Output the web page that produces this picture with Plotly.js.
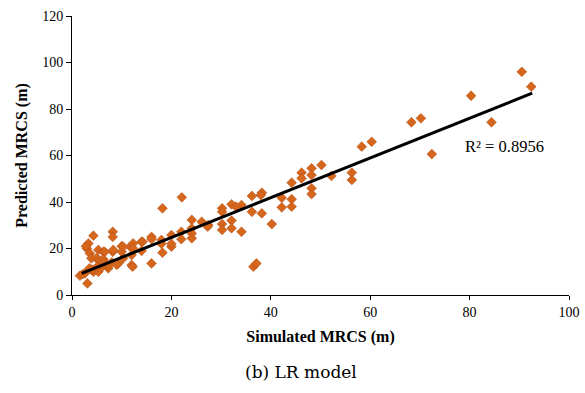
<!DOCTYPE html>
<html>
<head>
<meta charset="utf-8">
<script src="https://cdn.plot.ly/plotly-3.0.1.min.js"></script>
<style>html,body{margin:0;padding:0;background:#fff;}#chart{width:585px;height:393px;}</style>
</head>
<body>
<div id="chart"></div>
<script>
// Simulated MRCS (m)
const simulated = [
  1.6, 2.6, 3.1, 3.0, 3.3, 2.8, 4.3, 3.6, 3.9, 4.3, 5.3, 4.9, 5.5, 5.3, 6.3, 6.6, 6.3, 6.0, 7.3, 8.2,
  8.2, 8.2, 8.3, 9.3, 10.0, 10.0, 10.3, 10.3, 11.7, 12.0, 12.3, 12.3, 12.2, 4.0, 5.0, 7.0, 8.0, 9.0, 6.5, 3.5,
  2.2, 14.0, 14.2, 16.0, 16.0, 18.0, 20.0, 22.0, 24.1, 24.1, 24.1, 24.1, 26.1, 27.4, 18.2, 20.0, 16.0, 12.0,
  22.1, 18.2, 14.0, 20.0, 22.0, 18.0, 30.2, 30.2, 30.2, 30.2, 32.1, 32.1, 32.1, 34.1, 34.1, 36.2, 36.2, 38.2,
  38.2, 40.2, 42.2, 42.2, 44.2, 44.2, 44.2, 36.5, 37.1, 27.3, 38.0, 33.0, 46.2, 46.2, 48.2, 48.2, 48.2, 48.2,
  50.2, 52.2, 56.3, 56.3, 58.3, 60.3, 68.3, 70.2, 72.4, 80.3, 84.4, 90.5, 92.4
];
// Predicted MRCS (m)
const predicted = [
  8.3, 9.3, 5.0, 20.0, 22.2, 21.0, 25.5, 17.9, 15.8, 10.0, 10.0, 15.8, 15.0, 19.4, 18.6, 18.6, 15.4, 12.0, 11.5, 27.2,
  25.0, 18.6, 19.4, 13.6, 21.0, 18.6, 15.8, 20.8, 20.8, 12.9, 22.2, 20.0, 12.2, 11.0, 12.0, 13.0, 14.0, 13.0, 14.0, 11.5,
  9.0, 22.9, 22.9, 25.0, 24.0, 23.7, 25.8, 27.2, 32.3, 28.7, 26.5, 24.4, 31.5, 30.1, 18.2, 20.8, 13.6, 17.2,
  42.0, 37.3, 19.0, 22.0, 24.0, 22.0, 37.3, 35.8, 30.5, 28.0, 39.0, 32.0, 28.7, 38.7, 27.2, 42.6, 35.8, 44.0,
  35.1, 30.5, 41.8, 37.7, 41.2, 38.0, 48.3, 12.2, 13.6, 29.4, 43.0, 38.0, 52.6, 50.2, 54.5, 51.6, 45.9, 43.4,
  55.9, 51.2, 52.6, 49.5, 63.8, 65.9, 74.3, 76.0, 60.6, 85.7, 74.3, 96.0, 89.6
];
// Linear trend line
const trendX = [1.95, 92.6];
const trendY = [9.3, 86.8];
const rSquaredLabel = "R² = 0.8956";
const xTicks = [0, 20, 40, 60, 80, 100];
const yTicks = [0, 20, 40, 60, 80, 100, 120];

const serif = '"Liberation Serif", "Times New Roman", serif';

const traces = [
  {
    x: simulated, y: predicted, type: 'scatter', mode: 'markers',
    marker: {symbol: 'diamond', size: 7.5, color: '#D6661C', line: {color: '#B5531A', width: 0.6}},
    hoverinfo: 'skip'
  },
  {
    x: trendX, y: trendY, type: 'scatter', mode: 'lines',
    line: {color: '#000000', width: 3}, hoverinfo: 'skip'
  }
];

const layout = {
  width: 585, height: 393,
  margin: {l: 72, r: 16, t: 16, b: 98},
  paper_bgcolor: '#ffffff', plot_bgcolor: '#ffffff',
  showlegend: false,
  font: {family: serif, size: 14, color: '#000'},
  xaxis: {
    range: [0, 100], tickvals: xTicks, ticktext: xTicks.map(String),
    showgrid: false, zeroline: false, showline: true, linecolor: '#000', linewidth: 1,
    ticks: 'outside', ticklen: 4, tickcolor: '#000', tickwidth: 1,
    tickfont: {family: serif, size: 14, color: '#000'},
    title: {text: '<b>Simulated MRCS (m)</b>', font: {family: serif, size: 16, color: '#000'}, standoff: 12}
  },
  yaxis: {
    range: [0, 120], tickvals: yTicks, ticktext: yTicks.map(String),
    showgrid: false, zeroline: false, showline: true, linecolor: '#000', linewidth: 1,
    ticks: 'outside', ticklen: 5, tickcolor: '#000', tickwidth: 1,
    tickfont: {family: serif, size: 14, color: '#000'},
    title: {text: '<b>Predicted MRCS (m)</b>', font: {family: serif, size: 16, color: '#000'}, standoff: 10}
  },
  annotations: [
    {x: 87, y: 64, xref: 'x', yref: 'y', text: rSquaredLabel, showarrow: false,
     font: {family: serif, size: 16.5, color: '#000'}},
    {x: 0.5, y: 0, xref: 'paper', yref: 'paper', text: '(b) LR model', showarrow: false,
     yanchor: 'middle', xanchor: 'center',
     font: {family: '"DejaVu Serif", serif', size: 17, color: '#000'}}
  ]
};
// caption position in paper coords: centre at pixel (301, 372)
const plotH = 393 - 16 - 98;
layout.annotations[1].y = (393 - 98 - 372) / plotH;
layout.annotations[1].x = (301 - 72) / (585 - 72 - 16);

Plotly.newPlot('chart', traces, layout, {staticPlot: true, displayModeBar: false});
</script>
</body>
</html>
